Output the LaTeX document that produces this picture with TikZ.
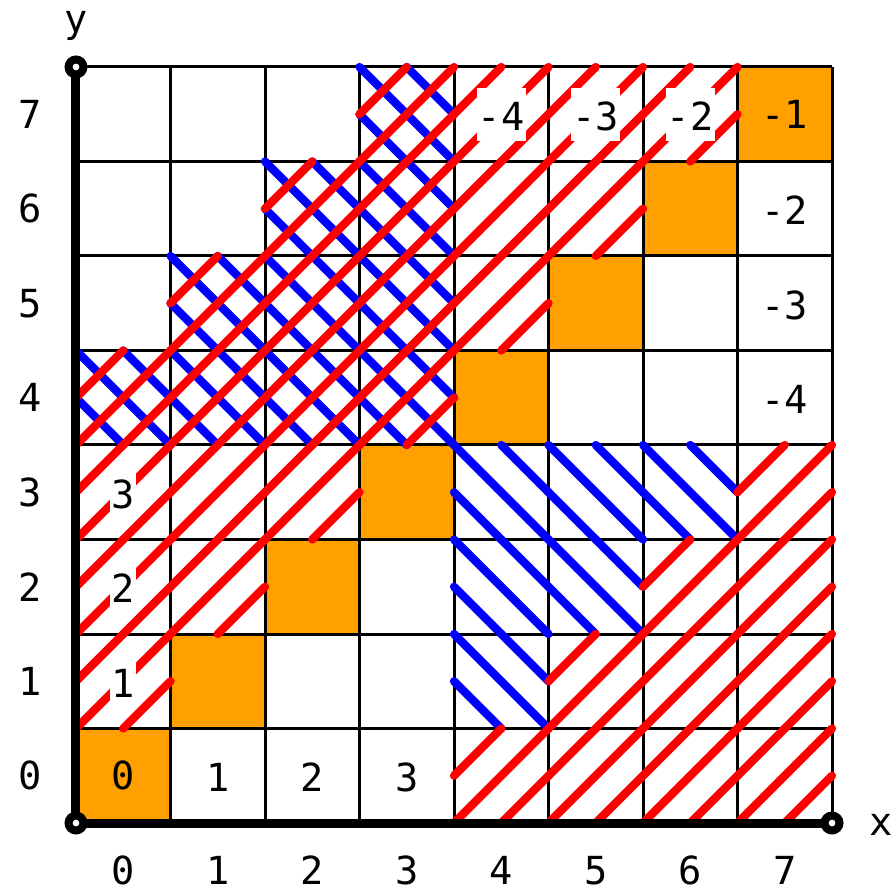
\documentclass[tikz,border=0pt]{standalone}
\usepackage{fontspec}
\setmainfont{DejaVu Sans Mono}
\definecolor{hatchred}{rgb}{1, 0, 0}
\definecolor{hatchblue}{rgb}{0, 0, 1}
\definecolor{cellorange}{RGB}{255, 160, 0}

\begin{document}
\begin{tikzpicture}[x=70.875pt,y=70.875pt,
	gridline/.style={color=black, line width=2.25pt},
	axisline/.style={color=black, line width=6.75pt},
	endpoint/.style={color=black, fill=white, line width=6pt},
	redhatch/.style={color=hatchred, line width=6.2pt, line cap=round},
	bluehatch/.style={color=hatchblue, line width=6.2pt, line cap=round},
	lbl/.style={font=\fontsize{29}{35}\selectfont, inner sep=1pt},
	celllbl/.style={lbl, fill=white, text height=31pt, text depth=7pt}]
	%set diagram margins
	\useasboundingbox (-0.8042,-0.6772) rectangle (8.6455,8.709);
	
	%Shape: Orange diagonal cells
	\foreach \k in {0,...,7}
		\fill[cellorange] (\k,\k) rectangle ++(1,1);
	
	%Shape: Grid
	\foreach \k in {0,...,8} {
		\draw[gridline] (\k,0) -- (\k,8);
		\draw[gridline] (0,\k) -- (8,\k);
	}
	
	%Shape: Blue hatching
	\foreach \i in {0,...,7} {
		\foreach \j in {0,...,7} {
			\pgfmathtruncatemacro{\d}{\j-\i}
			\pgfmathtruncatemacro{\isblue}{((\i<4)&&(\j>3)&&(\d<5)) || ((\i>3)&&(\j<4)&&(\d>-4))}
			\ifnum\isblue=1
				\draw[bluehatch] (\i,\j+1) -- ++(1,-1) (\i,\j+0.5) -- ++(0.5,-0.5) (\i+0.5,\j+1) -- ++(0.5,-0.5);
			\fi
		}
	}
	
	%Shape: Red hatching
	\foreach \i in {0,...,7} {
		\foreach \j in {0,...,7} {
			\pgfmathtruncatemacro{\d}{\j-\i}
			\pgfmathtruncatemacro{\isred}{((\d>0)&&(\d<5)) || (\d<-3)}
			\ifnum\isred=1
				\draw[redhatch] (\i,\j) -- ++(1,1) (\i,\j+0.5) -- ++(0.5,0.5) (\i+0.5,\j) -- ++(0.5,0.5);
			\fi
		}
	}
	
	% Text Node
	\node[lbl] (c00) at (0.5,0.5) {0};
	\node[celllbl] (c10) at (1.5,0.5) {1};
	\node[celllbl] (c20) at (2.5,0.5) {2};
	\node[celllbl] (c30) at (3.5,0.5) {3};
	% Text Node
	\node[celllbl] (c01) at (0.5,1.5) {1};
	\node[celllbl] (c02) at (0.5,2.5) {2};
	\node[celllbl] (c03) at (0.5,3.5) {3};
	% Text Node
	\node[celllbl] (c47) at (4.5,7.5) {-4};
	\node[celllbl] (c57) at (5.5,7.5) {-3};
	\node[celllbl] (c67) at (6.5,7.5) {-2};
	\node[lbl] (c77) at (7.5,7.5) {-1};
	% Text Node
	\node[celllbl] (c76) at (7.5,6.5) {-2};
	\node[celllbl] (c75) at (7.5,5.5) {-3};
	\node[celllbl] (c74) at (7.5,4.5) {-4};
	
	%Shape: Axis 2D
	\coordinate (O) at (0,0);
	\coordinate (xend) at (8,0);
	\coordinate (yend) at (0,8);
	\draw[axisline] (yend) -- (O) -- (xend);
	\draw[endpoint] (O) circle (0.079);
	\draw[endpoint] (xend) circle (0.079);
	\draw[endpoint] (yend) circle (0.079);
	
	% Text Node
	\node[lbl] (xlabel) at (8.52,-0.02) {x};
	\node[lbl] (ylabel) at (0,8.43) {y};
	% Text Node
	\foreach \k in {0,...,7} {
		\node[lbl] (xtick\k) at (\k+0.5,-0.5) {\k};
		\node[lbl] (ytick\k) at (-0.49,\k+0.5) {\k};
	}
	
\end{tikzpicture}
\end{document}
